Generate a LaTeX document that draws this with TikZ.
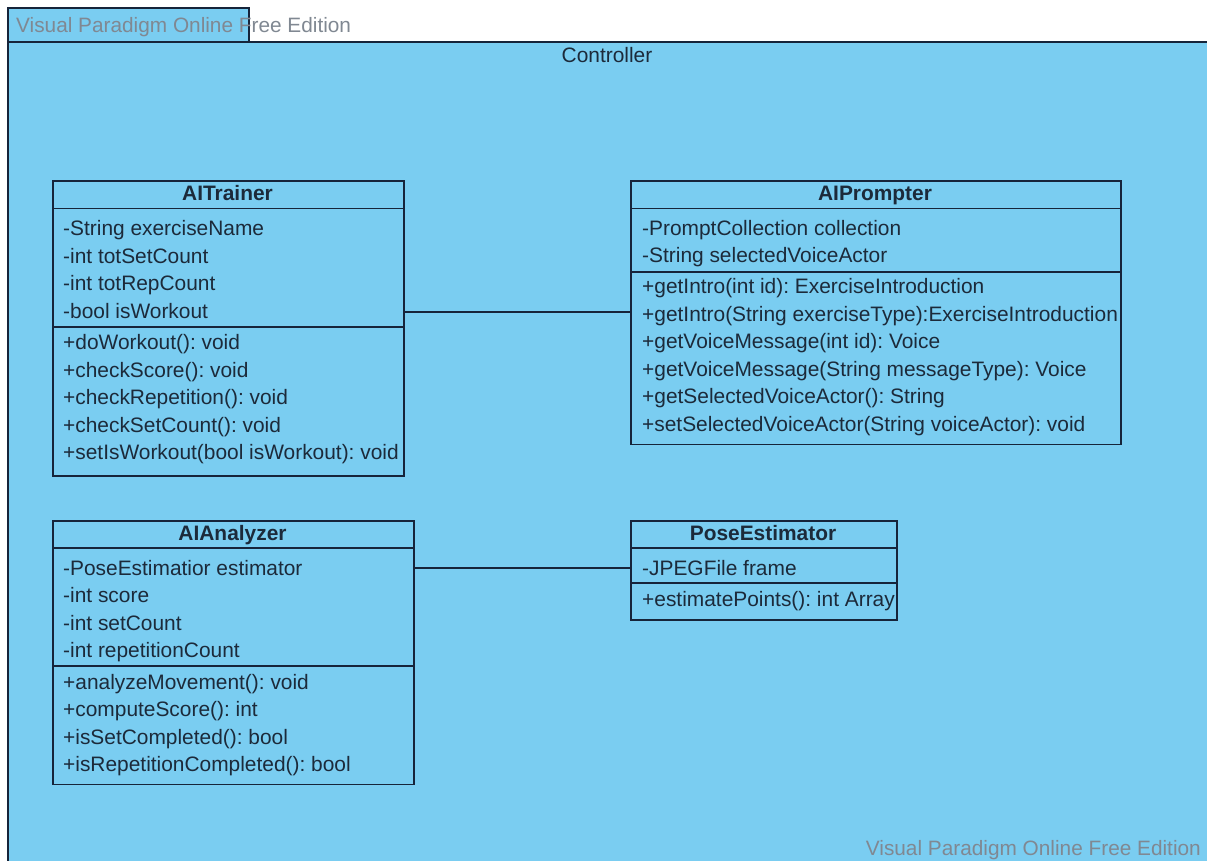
\documentclass[tikz,border=0pt]{standalone}
\usepackage{fontspec}
\setmainfont{Liberation Sans}
\usetikzlibrary{calc}
\frenchspacing
\definecolor{pkgblue}{RGB}{122,205,241}
\definecolor{edge}{RGB}{22,36,58}
\definecolor{ink}{RGB}{28,42,58}
\definecolor{wmark}{RGB}{128,136,146}
\tikzset{
  x=1pt, y=-1pt,
  classbox/.style={draw=edge, line width=1.6pt, inner sep=0pt, anchor=north west, rectangle},
  sepline/.style={draw=edge, line width=1.6pt},
  assoc/.style={draw=edge, line width=1.4pt},
  member/.style={anchor=base west, inner sep=0pt, text=ink, font=\fontsize{20.9}{24}\selectfont},
  title/.style={anchor=base, inner sep=0pt, text=ink, font=\fontsize{20.9}{24}\selectfont\bfseries},
  pkglabel/.style={anchor=base, inner sep=0pt, text=ink, font=\fontsize{20.9}{24}\selectfont},
  watermark/.style={inner sep=0pt, text=wmark, font=\fontsize{20.8}{24}\selectfont},
}
\begin{document}
\begin{tikzpicture}
\useasboundingbox (0,0) rectangle (1207,860);
\fill[white] (0,0) rectangle (1207,860);
% package frame and tab
\node[draw=edge, line width=1.6pt, fill=pkgblue, inner sep=0pt, anchor=north west,
      minimum width=1220pt, minimum height=840pt] (pkg) at (7,41) {};
\node[draw=edge, line width=1.6pt, fill=pkgblue, inner sep=0pt, anchor=north west,
      minimum width=241pt, minimum height=34pt] (tab) at (7,7) {};
\node[watermark, anchor=base west] (wm1) at (16,32.5) {Visual Paradigm Online Free Edition};
\node[watermark, anchor=base east] (wm2) at (1201,855) {Visual Paradigm Online Free Edition};
\node[pkglabel] (pkgname) at (607,62.5) {Controller};

% ---------- AITrainer ----------
\node[classbox, minimum width=351pt, minimum height=295pt] (trainer) at (52,180) {};
\draw[sepline] (trainer.west |- 0,208.5) -- (trainer.east |- 0,208.5);
\draw[sepline] (trainer.west |- 0,327) -- (trainer.east |- 0,327);
\node[title] (trainerT) at (227.5,200.5) {AITrainer};
\node[member] (tr1) at (63,235.5) {-String exerciseName};
\node[member] (tr2) at (63,263) {-int totSetCount};
\node[member] (tr3) at (63,290.5) {-int totRepCount};
\node[member] (tr4) at (63,318) {-bool isWorkout};
\node[member] (tr5) at (63,349.5) {+doWorkout(): void};
\node[member] (tr6) at (63,377) {+checkScore(): void};
\node[member] (tr7) at (63,404.5) {+checkRepetition(): void};
\node[member] (tr8) at (63,432) {+checkSetCount(): void};
\node[member] (tr9) at (63,459.5) {+setIsWorkout(bool isWorkout): void};

% ---------- AIPrompter ----------
\node[classbox, minimum width=490pt, minimum height=263.5pt] (prompter) at (630,180) {};
\draw[sepline] (prompter.west |- 0,208.5) -- (prompter.east |- 0,208.5);
\draw[sepline] (prompter.west |- 0,272) -- (prompter.east |- 0,272);
\node[title] (prompterT) at (875,200.5) {AIPrompter};
\node[member] (pr1) at (642,235) {-PromptCollection collection};
\node[member] (pr2) at (642,262.5) {-String selectedVoiceActor};
\node[member] (pr3) at (642,293.5) {+getIntro(int id): ExerciseIntroduction};
\node[member] (pr4) at (642,321) {+getIntro(String exerciseType):ExerciseIntroduction};
\node[member] (pr5) at (642,348.5) {+getVoiceMessage(int id): Voice};
\node[member] (pr6) at (642,376) {+getVoiceMessage(String messageType): Voice};
\node[member] (pr7) at (642,403.5) {+getSelectedVoiceActor(): String};
\node[member] (pr8) at (642,431) {+setSelectedVoiceActor(String voiceActor): void};

% ---------- AIAnalyzer ----------
\node[classbox, minimum width=361pt, minimum height=263.5pt] (analyzer) at (52,520) {};
\draw[sepline] (analyzer.west |- 0,548) -- (analyzer.east |- 0,548);
\draw[sepline] (analyzer.west |- 0,666) -- (analyzer.east |- 0,666);
\node[title] (analyzerT) at (232.5,540.5) {AIAnalyzer};
\node[member] (an1) at (63,575) {-PoseEstimatior estimator};
\node[member] (an2) at (63,602.5) {-int score};
\node[member] (an3) at (63,630) {-int setCount};
\node[member] (an4) at (63,657.5) {-int repetitionCount};
\node[member] (an5) at (63,689) {+analyzeMovement(): void};
\node[member] (an6) at (63,716.5) {+computeScore(): int};
\node[member] (an7) at (63,744) {+isSetCompleted(): bool};
\node[member] (an8) at (63,771.5) {+isRepetitionCompleted(): bool};

% ---------- PoseEstimator ----------
\node[classbox, minimum width=266pt, minimum height=99pt] (pose) at (630,520) {};
\draw[sepline] (pose.west |- 0,548) -- (pose.east |- 0,548);
\draw[sepline] (pose.west |- 0,583) -- (pose.east |- 0,583);
\node[title] (poseT) at (763,540.5) {PoseEstimator};
\node[member] (po1) at (642,575.5) {-JPEGFile frame};
\node[member] (po2) at (642,606) {+estimatePoints(): int Array};

% ---------- associations ----------
\draw[assoc] (trainer.east |- 0,312) -- (prompter.west |- 0,312);
\draw[assoc] (analyzer.east |- 0,568) -- (pose.west |- 0,568);
\end{tikzpicture}
\end{document}
